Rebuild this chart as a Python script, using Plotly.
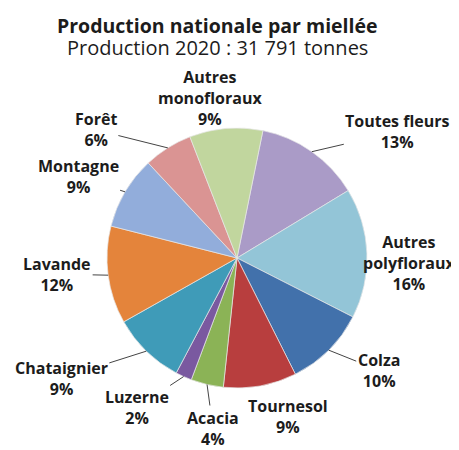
import math
import plotly.graph_objects as go

labels = ["Toutes fleurs", "Autres polyfloraux", "Colza", "Tournesol", "Acacia", "Luzerne",
          "Chataignier", "Lavande", "Montagne", "Forêt", "Autres monofloraux"]
label_text = ["Toutes fleurs", "Autres<br>polyfloraux", "Colza", "Tournesol", "Acacia", "Luzerne",
              "Chataignier", "Lavande", "Montagne", "Forêt", "Autres<br>monofloraux"]
values = [13, 16, 10, 9, 4, 2, 9, 12, 9, 6, 9]
colors = ["#aa9bc7", "#93c5d7", "#4271ab", "#b83e3e", "#8bb356", "#7a59a0",
          "#3f9bb8", "#e4843b", "#92addb", "#da9493", "#c1d69e"]

title = "Production nationale par miellée"
subtitle = "Production 2020 : 31 791 tonnes"

# layout constants (page pixels); the page body adds an 8px margin
OFF = 8
W, H = 459 - OFF, 450 - OFF
CX, CY, R = 237 - OFF, 258 - OFF, 130
ROT = 11.5
# label offsets from slice edge (pixels) and whether a leader line is drawn
offsets = [(86, -20), (42, 10), (50, 20), (28, 31), (6, 44), (-47, 31),
           (-85, 27), (-51, -1), (-47, -15), (-72, -18), (-16, -30)]
leaders = [True, False, True, False, True, True, True, True, True, True, False]


def px(x):
    return x / W


def py(y):
    return 1 - y / H


fig = go.Figure(go.Pie(
    labels=labels, values=values, sort=False, direction="clockwise", rotation=ROT,
    marker=dict(colors=colors, line=dict(color="#e6e6e6", width=0.7)),
    textinfo="none", hoverinfo="label+percent", showlegend=False,
    domain=dict(x=[px(CX - R), px(CX + R)], y=[py(CY + R), py(CY - R)]),
))

total = sum(values)
cum = 0
font = dict(family="Open Sans", size=16, color="#1c1c1c")
for lab, v, (dx, dy), lead in zip(label_text, values, offsets, leaders):
    mid = ROT + (cum + v / 2) / total * 360
    cum += v
    ex = CX + R * math.sin(math.radians(mid))
    ey = CY - R * math.cos(math.radians(mid))
    txt = f"<b>{lab}<br>{v}%</b>"
    if lead:
        fig.add_annotation(x=px(ex), y=py(ey), xref="paper", yref="paper",
                           ax=dx, ay=dy, text=txt, showarrow=True, arrowhead=0,
                           arrowwidth=1, arrowcolor="#444444", standoff=0,
                           xanchor="center", yanchor="middle",
                           font=font, align="center")
    else:
        fig.add_annotation(x=px(ex + dx), y=py(ey + dy), xref="paper", yref="paper",
                           text=txt, showarrow=False, font=font, align="center",
                           xanchor="center", yanchor="middle")

fig.add_annotation(x=px(217 - OFF), y=py(25.5 - OFF), xref="paper", yref="paper", showarrow=False,
                   xanchor="center", yanchor="middle",
                   text=f"<b>{title}</b>", font=dict(family="Open Sans", size=19.5, color="#1c1c1c"))
fig.add_annotation(x=px(217 - OFF), y=py(47 - OFF), xref="paper", yref="paper", showarrow=False,
                   xanchor="center", yanchor="middle",
                   text=subtitle, font=dict(family="Open Sans", size=20, color="#1c1c1c"))

fig.update_layout(width=W, height=H, margin=dict(l=0, r=0, t=0, b=0),
                  paper_bgcolor="white", plot_bgcolor="white")
fig.write_html("out.html")
